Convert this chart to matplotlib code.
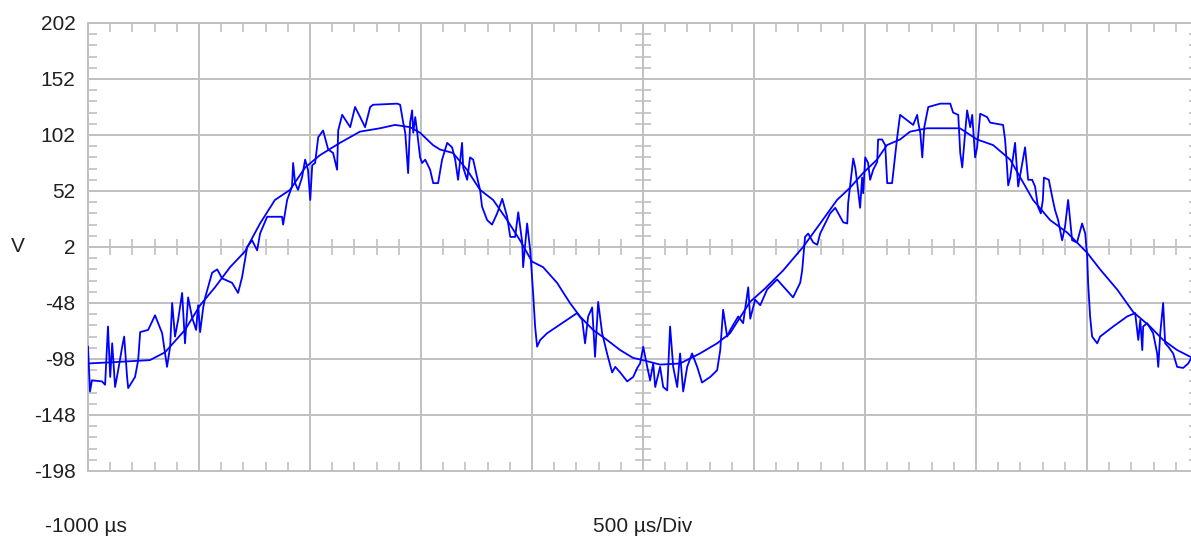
import matplotlib
matplotlib.use("Agg")
import matplotlib.pyplot as plt
import numpy as np

plt.rcParams['font.family'] = ['Liberation Sans', 'DejaVu Sans']

# averaged trace (time in us, volts)
avg_t = [-1000, -901, -811, -721, -653, -563, -495, -428, -360, -293, -225, -158, -90, -22,
         45, 135, 225, 315, 383, 451, 496, 554, 586, 644, 707, 766, 825, 888, 946, 1000,
         1050, 1113, 1171, 1216, 1275, 1338, 1397, 1455, 1500, 1577, 1667, 1757, 1834, 1892,
         1982, 2050, 2131, 2221, 2298, 2374, 2433, 2491, 2554, 2599, 2658, 2703, 2780, 2928,
         3005, 3077, 3154, 3257, 3334, 3410, 3500, 3559, 3636, 3708, 3784, 3843, 3906, 3965]
avg_v = [-102, -101, -100, -99, -92, -72, -50, -34, -16, -2, 23, 44, 53, 73,
         84, 95, 105, 108, 111, 109, 104, 93, 89, 86, 71, 53, 44, 26, 8, -11,
         -16, -30, -48, -60, -72, -81, -90, -97, -99, -103, -102, -93, -84, -75,
         -47, -35, -19, 2, 23, 44, 55, 68, 80, 93, 98, 105, 108, 108,
         98, 93, 80, 44, 26, 15, -3, -18, -36, -56, -69, -81, -90, -96]

# raw trace (time in us, volts)
raw_t = [-1000, -991, -982, -937, -923, -910, -900, -891, -878, -864, -846, -837, -824, -819,
         -788, -774, -765, -729, -698, -666, -644, -630, -621, -608, -594, -576, -563, -549,
         -531, -513, -504, -495, -481, -472, -441, -418, -396, -351, -324, -306, -283, -261,
         -238, -225, -193, -126, -121, -103, -81, -76, -67, -54, -36, -22, -9, 1, 10, 23,
         37, 59, 82, 104, 122, 127, 145, 181, 203, 226, 248, 271, 284, 393, 406, 420, 429,
         438, 442, 451, 460, 465, 474, 483, 496, 505, 519, 541, 555, 577, 595, 618, 640,
         654, 667, 685, 690, 708, 721, 735, 753, 766, 775, 798, 820, 843, 866, 888, 902,
         924, 938, 956, 960, 978, 992, 1005, 1014, 1023, 1037, 1068, 1113, 1158, 1203,
         1226, 1239, 1253, 1271, 1284, 1298, 1316, 1338, 1361, 1375, 1397, 1429, 1456,
         1474, 1487, 1501, 1519, 1532, 1546, 1555, 1577, 1591, 1609, 1622, 1636, 1654,
         1667, 1681, 1699, 1721, 1744, 1766, 1803, 1834, 1848, 1861, 1879, 1893, 1929,
         1951, 1974, 1983, 2005, 2028, 2059, 2104, 2176, 2208, 2217, 2230, 2244, 2267,
         2285, 2298, 2343, 2366, 2402, 2420, 2424, 2442, 2447, 2456, 2465, 2478, 2487,
         2492, 2501, 2514, 2523, 2537, 2555, 2559, 2577, 2591, 2600, 2622, 2636, 2645,
         2658, 2717, 2735, 2740, 2749, 2758, 2767, 2785, 2839, 2884, 2897, 2920, 2929,
         2938, 2951, 2960, 2974, 2983, 2996, 3005, 3019, 3050, 3064, 3122, 3131, 3140,
         3145, 3154, 3176, 3190, 3221, 3235, 3253, 3266, 3279, 3292, 3301, 3306, 3328,
         3346, 3356, 3370, 3388, 3401, 3415, 3433, 3455, 3478, 3492, 3501, 3505, 3514,
         3523, 3546, 3559, 3618, 3681, 3717, 3731, 3740, 3749, 3753, 3771, 3798, 3816,
         3821, 3830, 3843, 3852, 3866, 3888, 3906, 3933, 3956, 3973]
raw_v = [-87, -127, -117, -118, -121, -69, -114, -84, -123, -108, -87, -78, -114, -124,
         -114, -99, -74, -72, -59, -75, -105, -87, -48, -78, -63, -39, -84, -43,
         -61, -72, -50, -74, -52, -43, -21, -18, -26, -30, -39, -25, 2, 8,
         -1, 14, 29, 29, 22, 44, 56, 77, 59, 53, 64, 80, 71, 44, 75, 77,
         100, 106, 89, 86, 71, 106, 120, 109, 127, 118, 109, 127, 129, 130, 129, 113, 104,
         80, 68, 113, 124, 104, 118, 104, 82, 77, 80, 71, 59, 59, 80, 95, 91,
         80, 62, 95, 73, 62, 82, 80, 64, 53, 38, 26, 22, 32, 45, 29, 11,
         11, 33, 6, -16, 23, -1, -39, -69, -87, -81, -75, -69, -63, -57,
         -63, -84, -60, -52, -96, -47, -75, -93, -110, -105, -110, -118, -114,
         -106, -102, -87, -105, -117, -102, -123, -105, -123, -126, -69, -105, -123,
         -93, -127, -105, -93, -105, -119, -114, -108, -90, -54, -78, -72, -60,
         -66, -34, -62, -45, -50, -36, -27, -43, -30, -19, 11, 14, 6,
         4, 14, 32, 37, 24, 23, 41, 73, 81, 73, 59, 37, 64,
         50, 82, 77, 62, 71, 78, 98, 98, 93, 59, 59, 84, 100,
         120, 111, 120, 113, 104, 82, 109, 127, 130, 130, 122, 120, 86,
         73, 104, 124, 109, 120, 82, 91, 121, 118, 113, 111, 98, 73,
         57, 64, 95, 56, 91, 62, 62, 56, 38, 32, 44, 64, 62,
         44, 35, 26, 8, 20, 44, 8, 6, 23, 14, -7, -30, -60,
         -78, -84, -78, -69, -60, -57, -81, -63, -90, -69, -66, -75, -93,
         -105, -75, -48, -84, -87, -93, -105, -106, -102, -96]

y_ticks = [202, 152, 102, 52, 2, -48, -98, -148, -198]
x_major = np.arange(-1000, 4001, 500)
x_minor = np.arange(-1000, 4001, 100)
y_minor = np.arange(-198, 203, 10)

grid_col = '#c0c0c0'
W, H = 1191, 542
fig = plt.figure(figsize=(W / 100, H / 100), dpi=100)
ax = fig.add_axes([88 / W, (H - 471) / H, (1198 - 88) / W, (471 - 23) / H])

ax.plot(avg_t, avg_v, color='#0000ff', lw=1.3, zorder=3)
ax.plot(raw_t, raw_v, color='#0000ff', lw=1.3, zorder=3)

ax.set_xlim(-1000, 4000)
ax.set_ylim(-198, 202)
ax.set_xticks(x_major)
ax.set_xticks(x_minor, minor=True)
ax.set_yticks(y_ticks)
ax.set_yticks(y_minor, minor=True)
ax.set_xticklabels([])
ax.set_yticklabels([str(v) for v in y_ticks], fontsize=15, color='#202020')
ax.grid(True, which='major', color=grid_col, lw=1.4)
ax.tick_params(which='major', length=0, pad=9)
ax.tick_params(which='minor', direction='in', length=6.5, width=1.2, color=grid_col,
               top=True, bottom=True, left=True, right=True)
for s in ax.spines.values():
    s.set_color(grid_col)
    s.set_linewidth(1.4)

# centre crosshair ticks
ax.plot(x_minor, np.full(len(x_minor), 2), '|', ms=12, mew=1.2, color=grid_col, zorder=1)
ax.plot(np.full(len(y_minor), 1500), y_minor, '_', ms=12, mew=1.2, color=grid_col, zorder=1)

fig.text(18 / W, 1 - 247 / H, 'V', fontsize=15, ha='center', va='center', color='#202020')
fig.text(45 / W, 1 - 527 / H, '-1000 µs', fontsize=15, ha='left', va='center', color='#202020')
fig.text(643 / W, 1 - 527 / H, '500 µs/Div', fontsize=15, ha='center', va='center', color='#202020')

fig.savefig('out.png', dpi=100)
